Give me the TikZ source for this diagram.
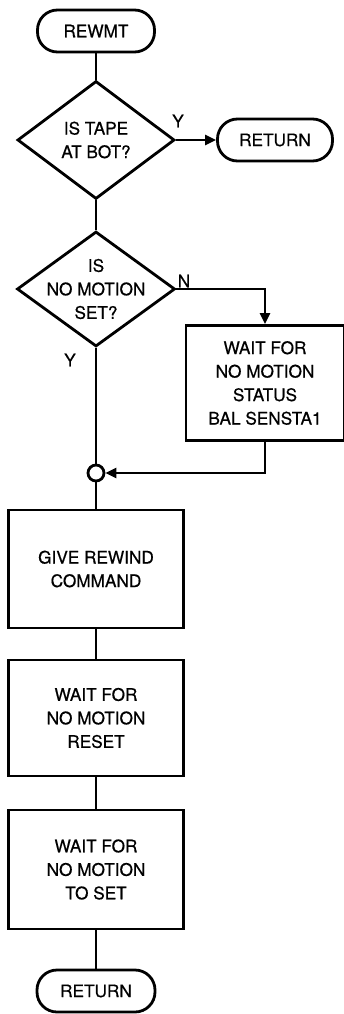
\documentclass[tikz,border=0pt]{standalone}
\usepackage{fontspec}
\setmainfont[FakeBold=0.6]{TeX Gyre Heros}
\newfontfamily\flowfont[FakeBold=0.6]{TeX Gyre Heros}
\usetikzlibrary{shapes.geometric,arrows.meta}
\begin{document}
\begin{tikzpicture}[x=1pt,y=-1pt,
  every node/.style={font=\flowfont\fontsize{17.2}{23.5}\selectfont, inner sep=0pt},
  lw/.style={line width=2.8pt},
  term/.style={lw, draw, rounded corners=20pt, minimum width=#1, minimum height=42pt},
  dia/.style n args={2}{lw, draw, diamond, minimum width=#1, minimum height=#2},
  box/.style n args={2}{lw, draw, rectangle, minimum width=#1, minimum height=#2, align=center},
  txt/.style={align=center},
  conn/.style={lw},
  arr/.style={lw, -{Triangle[length=11pt,width=10pt]}}
]
\useasboundingbox (0,0) rectangle (343,1014);
\node[term=117pt] (rewmt) at (96,31) {REWMT};
\node[dia={157pt}{118pt}] (d1) at (96,140) {};
\node[txt] (d1t) at (96,140) {IS TAPE\\AT BOT?};
\node[term=115pt] (ret1) at (275,140) {RETURN};
\node[dia={158pt}{115pt}] (d2) at (96,289) {};
\node[txt] (d2t) at (96,289) {IS\\NO MOTION\\SET?};
\node[box={158pt}{115pt}] (wait1) at (265,383) {WAIT FOR\\NO MOTION\\STATUS\\BAL SENSTA1};
\node[lw, draw, circle, minimum size=16pt, fill=white] (circ) at (96,473) {};
\node[box={175pt}{118pt}] (give) at (96,569) {GIVE REWIND\\COMMAND};
\node[box={175pt}{116pt}] (reset) at (96,718) {WAIT FOR\\NO MOTION\\RESET};
\node[box={175pt}{119pt}] (toset) at (96,869.5) {WAIT FOR\\NO MOTION\\TO SET};
\node[term=118pt] (ret2) at (96,991) {RETURN};
\node (ly1) at (178,121) {Y};
\node (ln) at (184,281) {N};
\node (ly2) at (70,360) {Y};
\draw[conn] (rewmt.south) -- (d1.north);
\draw[arr] (d1.east) -- (ret1.west);
\draw[conn] (d1.south) -- (d2.north);
\draw[arr] (d2.east) -| (wait1.north);
\draw[conn] (d2.south) -- (circ.north);
\draw[arr] (wait1.south) |- (circ.east);
\draw[conn] (circ.south) -- (give.north);
\draw[conn] (give.south) -- (reset.north);
\draw[conn] (reset.south) -- (toset.north);
\draw[conn] (toset.south) -- (ret2.north);
\end{tikzpicture}
\end{document}
